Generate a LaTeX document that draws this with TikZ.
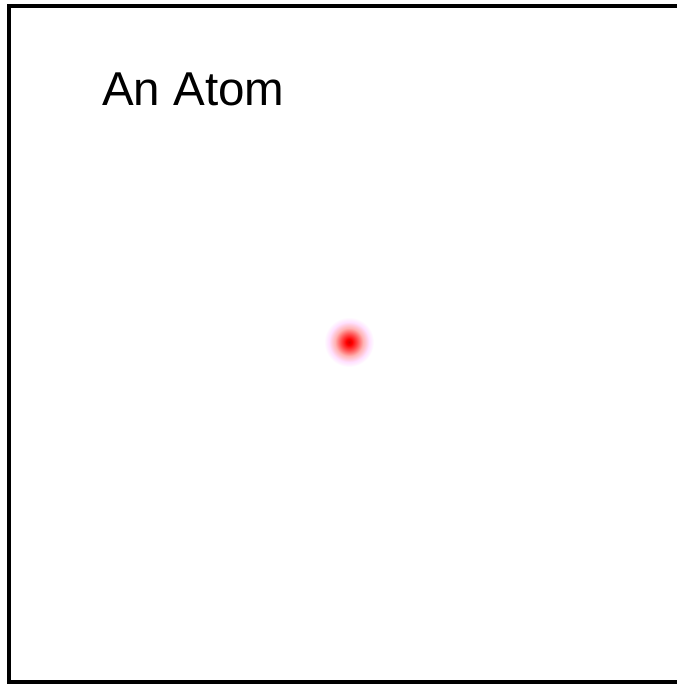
\documentclass[tikz,border=0pt]{standalone}
\usepackage{fontspec}
\setmainfont{Liberation Sans}
\pgfdeclareradialshading{atomglow}{\pgfpoint{0bp}{0bp}}{%
  color(0bp)=(red!85!black);
  color(3bp)=(red);
  color(8bp)=(red!70!white);
  color(14bp)=(red!30!white);
  color(20bp)=(magenta!12!white);
  color(25bp)=(white)}
\begin{document}
\begin{tikzpicture}[x=1bp,y=-1bp]
\tikzset{
  frameline/.style={line width=4bp, line cap=butt, line join=miter},
  titletext/.style={inner sep=0pt, anchor=base west, font=\fontsize{47.5bp}{52bp}\selectfont},
  atomdot/.style={circle, minimum size=50bp, inner sep=0pt, shading=atomglow}
}
\useasboundingbox (0,0) rectangle (677,686);
\fill[white] (0,0) rectangle (677,686);
\draw[frameline] (677,6) -- (9,6) -- (9,682) -- (677,682);
\node[titletext] (title) at (102,106) {An Atom};
\node[atomdot] (atom) at (349,342) {};
\end{tikzpicture}
\end{document}
